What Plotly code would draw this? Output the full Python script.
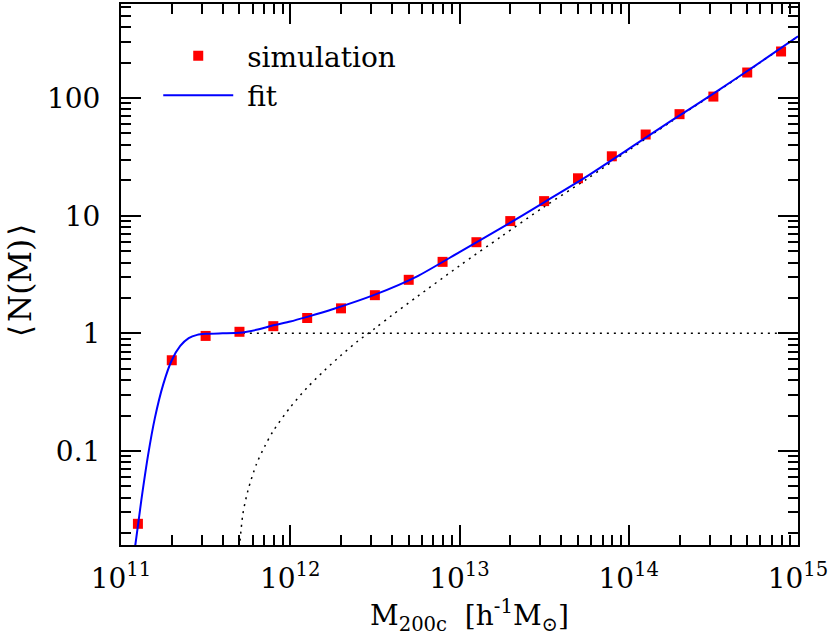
import plotly.graph_objects as go

# simulation points (log10 mass, <N(M)>)
sim_logm = [11.1, 11.3, 11.5, 11.7, 11.9, 12.1, 12.3, 12.5, 12.7, 12.9,
            13.1, 13.3, 13.5, 13.7, 13.9, 14.1, 14.3, 14.5, 14.7, 14.9]
sim_n = [0.024, 0.59, 0.95, 1.03, 1.15, 1.35, 1.63, 2.11, 2.85, 4.05,
         5.95, 9.0, 13.3, 20.8, 32, 49, 73, 103, 165, 249]

# fit curve
fit_logm = [11.07, 11.085, 11.12, 11.16, 11.2, 11.25, 11.3, 11.35, 11.4, 11.45,
            11.5, 11.6, 11.7, 11.8, 11.9, 12.0, 12.1, 12.25, 12.5, 12.75,
            13.0, 13.25, 13.5, 13.75, 14.0, 14.25, 14.5, 14.75, 15.0]
fit_n = [0.012, 0.016, 0.038, 0.092, 0.19, 0.37, 0.59, 0.78, 0.91, 0.97,
         0.99, 1.0, 1.01, 1.07, 1.17, 1.26, 1.38, 1.6, 2.13, 3.05,
         4.9, 7.9, 13.0, 21.5, 37, 64, 109, 190, 335]

# dotted components: central (flat) and satellite term
cen_logm = [11.72, 15.0]
cen_n = [1.0, 1.0]

sat_logm = [11.70, 11.72, 11.75, 11.8, 11.85, 11.9, 12.0, 12.1, 12.2, 12.3,
            12.4, 12.5, 12.6, 12.75, 13.0, 13.25, 13.5, 13.75, 14.0, 14.25,
            14.5, 14.75, 15.0]
sat_n = [0.015, 0.029, 0.046, 0.077, 0.11, 0.148, 0.235, 0.345, 0.48, 0.65,
         0.86, 1.10, 1.42, 2.05, 3.75, 6.7, 11.9, 20.4, 36, 63,
         108, 189, 334]

x_ticks = [1e11, 1e12, 1e13, 1e14, 1e15]
x_ticktext = ['10<sup>11</sup>', '10<sup>12</sup>', '10<sup>13</sup>',
              '10<sup>14</sup>', '10<sup>15</sup>']
y_ticks = [0.1, 1, 10, 100]
y_ticktext = ['0.1', '1', '10', '100']


def tolin(v):
    return [10 ** a for a in v]


x_minor = [m * 10 ** e for e in range(11, 15) for m in range(2, 10)]
y_minor = [m * 10 ** e for e in range(-2, 3) for m in range(2, 10)]

FONT = 'DejaVu Serif'

fig = go.Figure()

fig.add_trace(go.Scatter(x=tolin(cen_logm), y=cen_n, mode='lines',
                         line=dict(color='black', width=1.5, dash='2px,5px'),
                         showlegend=False, hoverinfo='skip'))
fig.add_trace(go.Scatter(x=tolin(sat_logm), y=sat_n, mode='lines',
                         line=dict(color='black', width=1.5, dash='2px,5px', shape='spline',
                                   smoothing=0.8),
                         showlegend=False, hoverinfo='skip'))
fig.add_trace(go.Scatter(x=tolin(sim_logm), y=sim_n, mode='markers',
                         name='\u00a0simulation',
                         marker=dict(symbol='square', size=10, color='#ff0000',
                                     line=dict(width=0))))
fig.add_trace(go.Scatter(x=tolin(fit_logm), y=fit_n, mode='lines', name='\u00a0fit',
                         line=dict(color='#0000ff', width=2, shape='spline', smoothing=0.6)))

axis_common = dict(
    type='log', showgrid=False, zeroline=False, automargin=False,
    showline=True, linecolor='black', linewidth=2, mirror='ticks',
    ticks='inside', ticklen=20, tickwidth=1.5, tickcolor='black',
    tickfont=dict(family=FONT, size=28, color='black'),
)

fig.update_xaxes(**axis_common, range=[11, 15], tickmode='array',
                 tickvals=x_ticks, ticktext=x_ticktext, ticklabelstandoff=7,
                 minor=dict(tickmode='array', tickvals=x_minor, ticks='inside',
                            ticklen=10, tickwidth=1.5, tickcolor='black'))
fig.update_yaxes(**axis_common, range=[-1.8, 2.8], tickmode='array',
                 tickvals=y_ticks, ticktext=y_ticktext, ticklabelstandoff=13,
                 minor=dict(tickmode='array', tickvals=y_minor, ticks='inside',
                            ticklen=10, tickwidth=1.5, tickcolor='black'))

# axis titles as annotations so they sit where the original has them
fig.add_annotation(text='M<sub>200c</sub>  [h<sup>-1</sup>M<sub>⊙</sub>]',
                   xref='paper', yref='paper', x=0.515, y=-0.13,
                   xanchor='center', yanchor='middle', showarrow=False,
                   font=dict(family=FONT, size=28, color='black'))
fig.add_annotation(text='⟨\u200aN(M)\u200a⟩', textangle=-90,
                   xref='paper', yref='paper', x=-0.149, y=0.488,
                   xanchor='center', yanchor='middle', showarrow=False,
                   font=dict(family=FONT, size=31, color='black'))

fig.update_layout(
    width=830, height=637,
    margin=dict(l=121, r=32, t=4, b=92),
    paper_bgcolor='white', plot_bgcolor='white',
    legend=dict(x=0.055, y=0.95, xanchor='left', yanchor='top',
                font=dict(family=FONT, size=28, color='black'),
                bgcolor='rgba(0,0,0,0)', itemwidth=70, tracegroupgap=0),
)

fig.write_html("out.html", config={'displayModeBar': False},
               post_script="document.body.style.margin='0';")
